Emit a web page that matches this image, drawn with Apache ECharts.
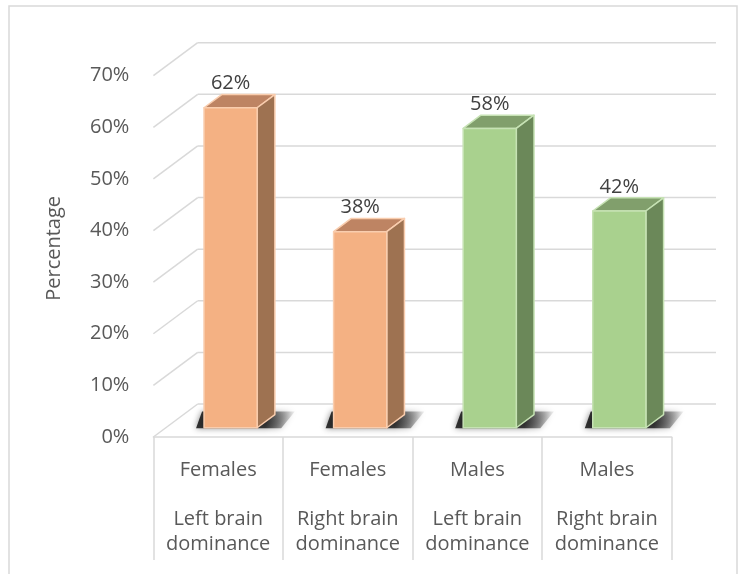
<!DOCTYPE html>
<html>
<head>
<meta charset="utf-8">
<title>Brain dominance by sex</title>
<script src="https://cdn.jsdelivr.net/npm/echarts@6/dist/echarts.min.js"></script>
<style>
  html, body { margin: 0; padding: 0; background: #ffffff; }
  #chart { width: 747px; height: 574px; }
</style>
</head>
<body>
<div id="chart"></div>
<script>
// Chart data
const groups = ['Females', 'Females', 'Males', 'Males'];
const dominance = ['Left brain dominance', 'Right brain dominance', 'Left brain dominance', 'Right brain dominance'];
const percentages = [62, 38, 58, 42];
const yTicks = [0, 10, 20, 30, 40, 50, 60, 70];

const FONT = '"Open Sans", "Lato", sans-serif';
const TEXT = '#595959';
const GRID = '#D9D9D9';

// Depth of the 3D box (pixels from the front plane to the back wall)
const DEPTH = { x: 44.3, y: -33 };
// Columns sit between these fractions of the depth
const COL_FRONT = 0.28, COL_BACK = 0.68;
// Column half width as a share of one category band
const COL_HALF = 0.205;

const palette = {
  Females: { front: '#F4B183', top: '#BE8463', side: '#9E7251', edge: '#F9CDAE' },
  Males:   { front: '#A9D18E', top: '#819F6C', side: '#6B8859', edge: '#C6E2B4' }
};

const chart = echarts.init(document.getElementById('chart'), null, { renderer: 'canvas' });

// Back wall lines and left wall diagonals for every value tick
function renderWalls(params, api) {
  const cs = params.coordSys;
  const y = api.coord([0, api.value(1)])[1];
  const x0 = cs.x, x1 = cs.x + cs.width;
  const line = { stroke: GRID, lineWidth: 1.5 };
  return {
    type: 'group',
    children: [
      { type: 'line', shape: { x1: x0 + DEPTH.x, y1: y + DEPTH.y, x2: x1 + DEPTH.x, y2: y + DEPTH.y }, style: line },
      { type: 'line', shape: { x1: x0, y1: y, x2: x0 + DEPTH.x, y2: y + DEPTH.y }, style: line }
    ]
  };
}

// One 3D column: floor shadow, top, side, front face and value label
function renderColumn(params, api) {
  const idx = api.value(0);
  const val = api.value(1);
  const base = api.coord([idx, 0]);
  const top = api.coord([idx, val]);
  const band = api.size([1, 0])[0];
  const hw = band * COL_HALF;
  const c = palette[groups[idx]];

  const fx = DEPTH.x * COL_FRONT, fy = DEPTH.y * COL_FRONT;
  const bx = DEPTH.x * COL_BACK, by = DEPTH.y * COL_BACK;
  const lx = base[0] - hw, rx = base[0] + hw;

  const FTL = [lx + fx, top[1] + fy], FTR = [rx + fx, top[1] + fy];
  const FBL = [lx + fx, base[1] + fy], FBR = [rx + fx, base[1] + fy];
  const BTL = [lx + bx, top[1] + by], BTR = [rx + bx, top[1] + by];
  const BBR = [rx + bx, base[1] + by];

  const edge = { stroke: c.edge, lineWidth: 1.5, lineJoin: 'round' };

  return {
    type: 'group',
    children: [
      {
        type: 'polygon',
        shape: { points: [
          [FBL[0] - 8, FBL[1] + 0.5],
          [FBR[0] + 24, FBR[1] + 0.5],
          [BBR[0] + 20, BBR[1] - 3],
          [FBL[0] - 2, BBR[1] - 3]
        ] },
        style: {
          fill: new echarts.graphic.LinearGradient(0, 0, 1, 0, [
            { offset: 0, color: 'rgba(20,20,20,0.85)' },
            { offset: 0.7, color: 'rgba(20,20,20,0.8)' },
            { offset: 1, color: 'rgba(20,20,20,0.05)' }
          ]),
          shadowBlur: 6,
          shadowColor: 'rgba(0,0,0,0.55)'
        }
      },
      { type: 'polygon', shape: { points: [FTL, FTR, BTR, BTL] }, style: Object.assign({ fill: c.top }, edge) },
      { type: 'polygon', shape: { points: [FTR, BTR, BBR, FBR] }, style: Object.assign({ fill: c.side }, edge) },
      { type: 'polygon', shape: { points: [FTL, FTR, FBR, FBL] }, style: Object.assign({ fill: c.front }, edge) },
      {
        type: 'text',
        x: base[0] + fx,
        y: top[1] + fy - 24,
        style: {
          text: val + '%',
          align: 'center',
          verticalAlign: 'middle',
          fill: '#404040',
          fontSize: 20,
          fontFamily: FONT
        }
      }
    ]
  };
}

const option = {
  animation: false,
  backgroundColor: '#ffffff',
  grid: { left: 153.4, right: 75.3, top: 75.7, bottom: 137 },
  xAxis: {
    type: 'category',
    data: groups.map((g, i) => g + ' ' + dominance[i]),
    boundaryGap: true,
    axisLine: { show: true, lineStyle: { color: GRID, width: 1.5 } },
    axisTick: { show: true, length: 123, alignWithLabel: false, lineStyle: { color: GRID, width: 1.5 } },
    axisLabel: {
      interval: 0,
      margin: 21.5,
      color: TEXT,
      fontSize: 20,
      fontFamily: FONT,
      lineHeight: 24.5,
      align: 'center',
      verticalAlign: 'top',
      formatter: (value, i) => groups[i] + '\n\n' + dominance[i].replace(' dominance', '\ndominance')
    },
    splitLine: { show: false }
  },
  yAxis: {
    type: 'value',
    min: 0,
    max: 70,
    interval: 10,
    name: 'Percentage',
    nameLocation: 'middle',
    nameRotate: 90,
    nameGap: 89,
    nameTextStyle: { color: TEXT, fontSize: 20, fontFamily: FONT, padding: [0, 0, 0, 16] },
    axisLine: { show: false },
    axisTick: { show: false },
    splitLine: { show: false },
    axisLabel: {
      margin: 24,
      color: TEXT,
      fontSize: 20,
      fontFamily: FONT,
      padding: [6, 0, 0, 0],
      formatter: (v) => v + '%'
    }
  },
  graphic: [
    {
      type: 'rect',
      shape: { x: 9, y: 6, width: 728, height: 620 },
      style: { fill: 'none', stroke: GRID, lineWidth: 1.5 },
      silent: true,
      z: -10
    }
  ],
  series: [
    {
      type: 'custom',
      name: 'walls',
      z: 1,
      silent: true,
      renderItem: renderWalls,
      data: yTicks.map(v => [0, v])
    },
    {
      type: 'custom',
      name: 'Percentage',
      z: 3,
      renderItem: renderColumn,
      data: percentages.map((v, i) => [i, v])
    }
  ]
};

chart.setOption(option);
</script>
</body>
</html>
